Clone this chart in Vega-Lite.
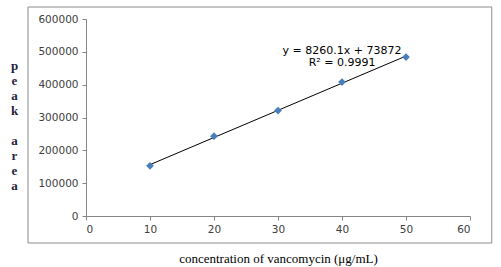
{
  "$schema": "https://vega.github.io/schema/vega-lite/v6.json",
  "width": 384,
  "height": 197,
  "autosize": {"type": "none"},
  "padding": {"left": 86, "top": 19, "right": 31, "bottom": 51},
  "background": "white",
  "config": {"view": {"stroke": null}},
  "datasets": {
    "pts": [
      {"conc": 10, "area": 153000},
      {"conc": 20, "area": 243000},
      {"conc": 30, "area": 321000},
      {"conc": 40, "area": 408000},
      {"conc": 50, "area": 484000}
    ],
    "labels": [
      {"x": 40, "y": 502500, "text": "y = 8260.1x + 73872"},
      {"x": 40, "y": 465000, "text": "R² = 0.9991"}
    ],
    "frame": [
      {"x1": -9.06, "x2": 63.4, "y1": 636500, "y2": -82200}
    ]
  },
  "encoding": {
    "x": {
      "type": "quantitative",
      "scale": {"domain": [0, 60], "nice": false},
      "axis": {
        "values": [0, 10, 20, 30, 40, 50, 60],
        "grid": false,
        "labelOverlap": false,
        "domainColor": "#868686",
        "tickColor": "#868686",
        "tickSize": 4,
        "labelFont": "DejaVu Sans",
        "labelFontSize": 10.5,
        "labelColor": "#404040",
        "labelPadding": 4,
        "title": "concentration of vancomycin (μg/mL)",
        "titleFont": "Liberation Serif",
        "titleFontSize": 13,
        "titleFontWeight": "normal",
        "titleColor": "#000000",
        "titleY": 42,
        "titleBaseline": "middle"
      }
    },
    "y": {
      "type": "quantitative",
      "scale": {"domain": [0, 600000], "nice": false},
      "axis": {
        "values": [0, 100000, 200000, 300000, 400000, 500000, 600000],
        "grid": false,
        "labelOverlap": false,
        "domainColor": "#868686",
        "tickColor": "#868686",
        "tickSize": 4,
        "labelFont": "DejaVu Sans",
        "labelFontSize": 10.5,
        "labelColor": "#404040",
        "labelPadding": 4,
        "format": "d",
        "title": ["p", "e", "a", "k", "\u2800", "a", "r", "e", "a"],
        "titleAngle": 0,
        "titleFont": "Liberation Serif",
        "titleFontSize": 13,
        "titleFontWeight": "bold",
        "titleColor": "#1f1f3f",
        "titleLineHeight": 15,
        "titleAlign": "center",
        "titleBaseline": "middle",
        "titleX": -72,
        "titleY": 46
      }
    }
  },
  "layer": [
    {
      "data": {"name": "frame"},
      "mark": {"type": "rect", "fill": null, "stroke": "#8c8c8c", "strokeWidth": 1, "clip": false},
      "encoding": {
        "x": {"field": "x1"},
        "x2": {"field": "x2"},
        "y": {"field": "y1"},
        "y2": {"field": "y2"}
      }
    },
    {
      "data": {"name": "pts"},
      "transform": [{"regression": "area", "on": "conc", "extent": [10, 50]}],
      "mark": {"type": "line", "color": "#000000", "strokeWidth": 1},
      "encoding": {
        "x": {"field": "conc"},
        "y": {"field": "area"}
      }
    },
    {
      "data": {"name": "pts"},
      "mark": {"type": "point", "shape": "diamond", "filled": true, "color": "#4a7ebb", "size": 60, "opacity": 1},
      "encoding": {
        "x": {"field": "conc"},
        "y": {"field": "area"}
      }
    },
    {
      "data": {"name": "labels"},
      "mark": {"type": "text", "font": "DejaVu Sans", "fontSize": 11, "color": "#000000", "align": "center", "baseline": "middle"},
      "encoding": {
        "x": {"field": "x"},
        "y": {"field": "y"},
        "text": {"field": "text"}
      }
    }
  ]
}
